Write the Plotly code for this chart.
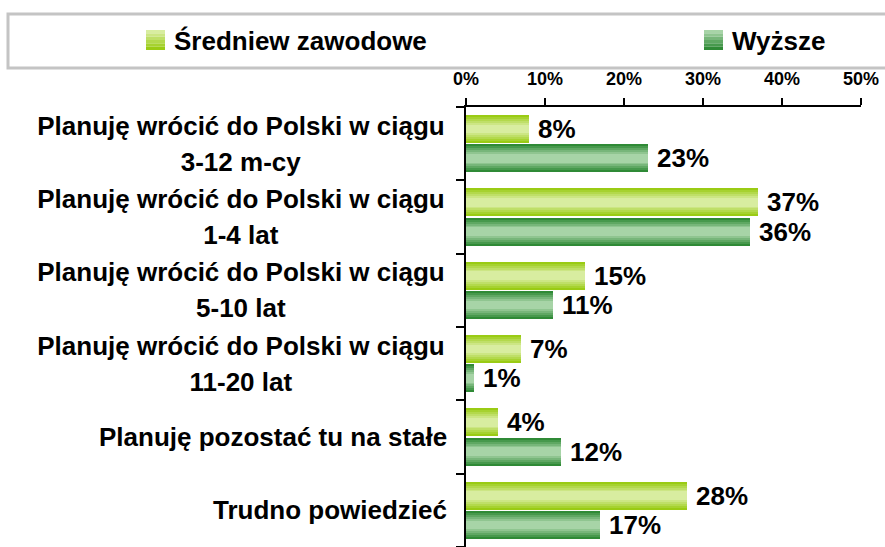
import plotly.graph_objects as go

# Survey answers (top to bottom) and shares per education level, in percent
categories = [
    "Planuję wrócić do Polski w ciągu<br>3-12 m-cy",
    "Planuję wrócić do Polski w ciągu<br>1-4 lat",
    "Planuję wrócić do Polski w ciągu<br>5-10 lat",
    "Planuję wrócić do Polski w ciągu<br>11-20 lat",
    "Planuję pozostać tu na stałe",
    "Trudno powiedzieć",
]
series_names = ["Średniew zawodowe", "Wyższe"]
srednie = [8, 37, 15, 7, 4, 28]
wyzsze = [23, 36, 11, 1, 12, 17]
x_ticks = [0, 10, 20, 30, 40, 50]

FONT = "Liberation Sans, Arial, sans-serif"

W, H = 885, 547
M_L, M_R, M_T, M_B = 466, 24, 107, 0
PW, PH = W - M_L - M_R, H - M_T - M_B


def px_x(p):
    return (p - M_L) / PW


def px_y(p):
    return (H - M_B - p) / PH


def mix(c1, c2, t):
    a = [int(c1[i:i + 2], 16) for i in (1, 3, 5)]
    b = [int(c2[i:i + 2], 16) for i in (1, 3, 5)]
    return "#" + "".join(f"{round(a[k] + (b[k] - a[k]) * t):02x}" for k in range(3))


styles = [
    {"edge": "#9acb14", "center": "#d8eda0", "pos": -0.2},
    {"edge": "#2f8a36", "center": "#a7d4a7", "pos": 0.2},
]
BAR_W = 0.38
layers = [1.0, 0.86, 0.72, 0.58, 0.44, 0.30]

fig = go.Figure()
y_idx = list(range(len(categories)))

# each bar is a stack of concentric layers to give a shaded, tube-like fill
for name, vals, st in zip(series_names, [srednie, wyzsze], styles):
    for li, frac in enumerate(layers):
        w = BAR_W * frac
        t = li / (len(layers) - 1)
        fig.add_trace(go.Bar(
            x=vals, y=y_idx, orientation="h",
            width=w, offset=st["pos"] - w / 2,
            marker=dict(color=mix(st["edge"], st["center"], t), line=dict(width=0)),
            name=name, showlegend=False, hoverinfo="skip" if li else "x+name",
        ))

annotations = []
# value labels next to each bar
for vals, st in zip([srednie, wyzsze], styles):
    for i, v in enumerate(vals):
        annotations.append(dict(
            x=v, y=i + st["pos"], xref="x", yref="y",
            text=f"{v}%", showarrow=False, xanchor="left", yanchor="middle",
            xshift=7, font=dict(family=FONT, size=26, color="#000", weight="bold"),
        ))

# category labels on the left; wrapped labels get one centred box per line
LABEL_FONT = dict(family=FONT, size=26, color="#000", weight="bold")
for i, c in enumerate(categories):
    lines = c.split("<br>")
    shifts = [0] if len(lines) == 1 else [18, -18]
    for line, ys in zip(lines, shifts):
        annotations.append(dict(
            x=px_x(449), y=i, xref="paper", yref="y", yshift=ys,
            text=line, showarrow=False, xanchor="right", yanchor="middle",
            align="center", width=412 if len(lines) > 1 else None,
            font=LABEL_FONT,
        ))

# legend box with gradient swatches
shapes = [dict(type="rect", xref="paper", yref="paper",
               x0=px_x(8), x1=px_x(892), y0=px_y(68), y1=px_y(14),
               line=dict(color="#c4c4c4", width=3), fillcolor="rgba(0,0,0,0)")]
legend_pos = [(146, 172), (704, 730)]
sw_top, sw_bot = 30, 50
for (sx, tx), name, st in zip(legend_pos, series_names, styles):
    n = 6
    for k in range(n):
        y0 = sw_top + (sw_bot - sw_top) * k / n
        y1 = sw_top + (sw_bot - sw_top) * (k + 1) / n
        shapes.append(dict(type="rect", xref="paper", yref="paper",
                           x0=px_x(sx), x1=px_x(sx + 19), y0=px_y(y1), y1=px_y(y0),
                           line=dict(width=0),
                           fillcolor=mix(st["center"], st["edge"], k / (n - 1))))
    annotations.append(dict(
        x=px_x(tx), y=px_y(41), xref="paper", yref="paper",
        text=name, showarrow=False, xanchor="left", yanchor="middle",
        font=dict(family=FONT, size=26, color="#000", weight="bold"),
    ))

fig.update_layout(
    width=W, height=H,
    margin=dict(l=M_L, r=M_R, t=M_T, b=M_B, pad=0),
    paper_bgcolor="white", plot_bgcolor="white",
    barmode="overlay", bargap=0,
    showlegend=False,
    annotations=annotations, shapes=shapes,
    xaxis=dict(
        side="top", range=[0, 50], tickvals=x_ticks,
        ticktext=[f"{t}%" for t in x_ticks],
        showgrid=False, zeroline=False, showline=True,
        linecolor="#000", linewidth=2, ticks="outside", ticklen=7,
        tickcolor="#000", tickwidth=2, ticklabelstandoff=6,
        tickfont=dict(family=FONT, size=18, color="#000", weight="bold"),
    ),
    yaxis=dict(
        range=[len(categories) - 0.5, -0.5],
        tickvals=[i - 0.5 for i in range(len(categories) + 1)],
        showticklabels=False, showgrid=False, zeroline=False,
        showline=True, linecolor="#000", linewidth=2,
        ticks="outside", ticklen=8, tickcolor="#000", tickwidth=2,
    ),
)

fig.write_html("out.html")
